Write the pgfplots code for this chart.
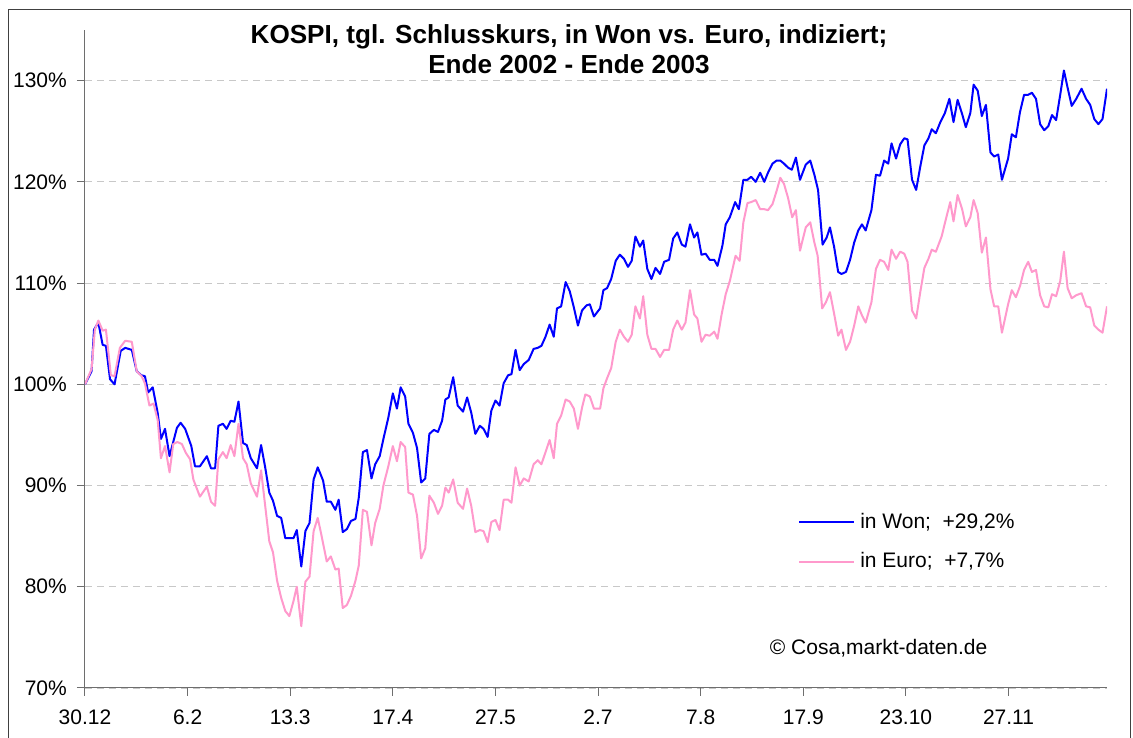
\documentclass[border=0pt]{standalone}
\usepackage{fontspec}
\setmainfont{Liberation Sans}
\usepackage{pgfplots}
\pgfplotsset{compat=1.18}
\definecolor{wonblue}{RGB}{0,0,255}
\definecolor{europink}{RGB}{255,153,204}
\definecolor{gridgray}{RGB}{200,200,200}
\definecolor{axgray}{RGB}{110,110,110}
\begin{document}
\fontsize{21pt}{25pt}\selectfont
\begin{tikzpicture}
\useasboundingbox (0pt,0pt) rectangle (1133pt,738pt);
\fill[white] (0pt,0pt) rectangle (1133pt,738pt);
\draw[black!75, line width=1pt] (8pt,-10pt) rectangle (1130pt,728pt);
\node[align=center, font=\bfseries\fontsize{26.1pt}{30pt}\selectfont] at (569pt,688.5pt)
  {KOSPI, tgl. Schlusskurs, in Won vs. Euro, indiziert;\\Ende 2002 - Ende 2003};
\begin{axis}[
  at={(85pt,50pt)}, anchor=south west, scale only axis,
  width=1022pt, height=658pt,
  xmin=0, xmax=249, ymin=70, ymax=135,
  axis x line=bottom, axis y line=left,
  axis line style={-, axgray, line width=1pt},
  tick style={axgray, line width=1pt},
  tick align=outside, major tick length=8pt,
  xtick={0,25,...,225},
  xticklabels={30.12,6.2,13.3,17.4,27.5,2.7,7.8,17.9,23.10,27.11},
  ytick={70,80,...,130},
  yticklabels={70\%,80\%,90\%,100\%,110\%,120\%,130\%},
  ticklabel style={font=\fontsize{21pt}{25pt}\selectfont},
  yticklabel style={inner sep=0pt, xshift=-10pt},
  xticklabel style={inner sep=0pt, yshift=-14pt},
  ymajorgrids=true,
  major grid style={gridgray, dash pattern=on 7pt off 5pt, line width=0.8pt},
  legend style={at={(axis description cs:0.6977,0.266)}, anchor=north west,
    draw=none, fill=none, inner sep=0pt, row sep=21pt, column sep=5pt,
    font=\fontsize{21pt}{25pt}\selectfont, nodes={inner sep=0pt}},
  legend cell align=left,
  legend image code/.code={\draw[#1] (0pt,0pt) -- (55pt,0pt);},
]
\addplot[wonblue, line width=2pt, line join=round] coordinates {
(0,100.0) (1.6,101.3) (2.2,105.4) (3.25,106.1) (4.3,103.9) (5.1,103.8) (6.1,100.5) (7.2,100.0)
(8.7,103.3) (9.8,103.6) (11.4,103.4) (12.6,101.3) (13.7,100.9) (14.6,100.8) (15.4,99.2) (16.5,99.7)
(17.7,97.2) (18.5,94.6) (19.5,95.6) (20.6,92.9) (22.4,95.7) (23.3,96.2) (24.4,95.6) (25.9,93.9)
(26.8,91.9) (28.0,91.9) (29.7,92.9) (30.7,91.7) (31.7,91.7) (32.5,95.9) (33.6,96.1) (34.5,95.6)
(35.5,96.4) (36.4,96.3) (37.4,98.3) (38.5,94.2) (39.4,94.0) (40.4,92.7) (41.9,91.7) (42.9,94.0)
(43.9,91.8) (44.9,89.3) (45.8,88.5) (46.8,87.0) (47.8,86.8) (48.8,84.8) (50.8,84.8) (51.6,85.6)
(52.7,82.0) (53.7,85.5) (54.7,86.3) (55.7,90.6) (56.7,91.8) (58.0,90.5) (58.9,88.4) (59.9,88.4)
(61.0,87.6) (61.8,88.6) (62.8,85.4) (63.8,85.7) (64.8,86.5) (65.9,86.7) (66.7,88.8) (67.7,93.3)
(68.7,93.5) (69.8,90.7) (70.7,92.1) (71.8,92.9) (72.7,94.6) (73.9,96.7) (75.0,99.1) (76.0,97.6)
(76.9,99.7) (78.0,98.8) (78.8,96.1) (79.9,95.2) (80.9,93.7) (81.9,90.3) (82.9,90.7) (83.9,95.1)
(85.0,95.5) (86.0,95.3) (87.0,96.4) (87.8,98.5) (88.6,98.7) (89.7,100.7) (90.8,97.9) (92.1,97.3)
(93.1,98.7) (94.1,97.2) (95.1,95.1) (96.2,95.9) (97.1,95.6) (98.1,94.8) (99.0,97.4) (100.0,98.4)
(101.0,97.9) (102.0,100.1) (103.1,100.9) (103.9,101.0) (104.9,103.4) (105.9,101.4) (106.9,102.0) (108.1,102.4)
(109.3,103.5) (110.3,103.6) (111.2,103.8) (112.2,104.7) (113.2,105.9) (114.2,104.7) (115.0,107.5) (116.0,107.7)
(117.1,110.1) (118.1,109.2) (119.1,107.6) (120.1,105.8) (121.1,107.3) (122.2,107.8) (123.0,107.9) (124.0,106.7)
(125.5,107.5) (126.3,109.3) (127.2,109.5) (128.2,110.4) (129.3,112.2) (130.3,112.8) (131.3,112.4) (132.3,111.6)
(133.2,112.2) (134.1,114.6) (135.2,113.6) (136.0,114.2) (137.0,111.4) (138.0,110.4) (139.0,111.5) (140.1,110.9)
(141.1,112.1) (142.3,112.3) (143.3,114.4) (144.3,115.0) (145.4,113.8) (146.3,113.6) (147.4,115.8) (148.4,114.5)
(149.2,115.0) (150.2,112.8) (151.2,112.9) (152.2,112.3) (153.3,112.3) (154.1,111.7) (155.3,113.7) (156.1,115.8)
(157.1,116.5) (158.4,118.0) (159.3,117.3) (160.4,120.2) (161.4,120.2) (162.3,120.5) (163.4,120.0) (164.5,120.9)
(165.5,120.0) (166.4,120.9) (167.5,121.8) (168.5,122.1) (169.4,122.1) (170.3,121.8) (171.3,121.4) (172.2,121.2)
(173.2,122.4) (174.2,120.2) (175.6,121.7) (176.7,122.1) (177.7,120.7) (178.6,119.2) (179.7,113.8) (180.7,114.5)
(181.5,115.5) (182.5,113.6) (183.5,111.1) (184.3,110.9) (185.4,111.1) (186.4,112.3) (187.4,114.0) (188.4,115.2)
(189.3,115.8) (190.2,115.2) (191.6,117.2) (192.7,120.7) (193.7,120.6) (194.7,122.1) (195.7,121.8) (196.5,123.8)
(197.6,122.3) (198.6,123.7) (199.6,124.3) (200.4,124.2) (201.5,120.2) (202.5,119.2) (203.5,121.5) (204.5,123.6)
(205.5,124.3) (206.3,125.2) (207.3,124.8) (208.4,125.9) (209.5,126.8) (210.6,128.2) (211.6,125.9) (212.6,128.1)
(213.7,126.7) (214.6,125.4) (215.7,126.8) (216.5,129.6) (217.5,129.0) (218.5,126.5) (219.5,127.6) (220.6,122.9)
(221.5,122.5) (222.5,122.7) (223.4,120.2) (224.9,122.3) (225.8,124.7) (226.8,124.4) (227.8,126.9) (228.8,128.6)
(229.8,128.6) (230.7,128.8) (231.7,128.2) (232.7,125.7) (233.7,125.1) (234.7,125.5) (235.6,126.6) (236.6,126.1)
(237.6,128.6) (238.5,131.0) (239.4,129.3) (240.4,127.5) (241.5,128.2) (242.8,129.2) (243.9,128.2) (244.9,127.6)
(245.9,126.2) (246.9,125.7) (247.9,126.2) (249.0,129.2)
};
\addlegendentry{in Won;\ \ +29,2\%}
\addplot[europink, line width=2pt, line join=round] coordinates {
(0,100.0) (1.6,101.5) (2.4,105.4) (3.25,106.3) (4.3,105.3) (5.1,105.4) (6.3,100.9) (7.2,100.8)
(8.5,103.6) (9.8,104.3) (11.4,104.2) (12.6,101.3) (13.8,100.8) (14.6,100.1) (15.7,97.9) (16.7,98.1)
(17.7,96.5) (18.5,92.7) (19.5,93.9) (20.6,91.3) (21.5,94.1) (22.5,94.3) (23.6,94.1) (24.6,93.2)
(25.6,92.6) (26.4,90.6) (28.0,88.9) (29.7,89.9) (30.7,88.4) (31.7,88.0) (32.5,92.6) (33.6,93.3)
(34.5,92.7) (35.5,94.0) (36.4,92.9) (37.4,96.1) (38.5,92.7) (39.4,92.1) (40.4,90.2) (41.9,88.9)
(42.9,91.5) (43.9,88.0) (44.9,84.5) (45.8,83.4) (46.8,80.6) (47.8,78.9) (48.8,77.6) (49.8,77.1)
(50.8,78.6) (51.6,80.0) (52.7,76.1) (53.7,80.5) (54.7,81.0) (55.7,85.5) (56.7,86.8) (57.5,85.3)
(58.9,82.5) (59.9,83.0) (61.0,81.7) (61.8,81.8) (62.8,77.9) (63.8,78.2) (64.8,79.1) (65.9,80.6)
(66.7,82.1) (67.7,87.6) (68.7,87.4) (69.8,84.1) (70.7,86.3) (71.8,87.7) (72.7,90.0) (73.9,91.9)
(75.0,93.9) (76.0,92.4) (76.9,94.3) (78.0,93.8) (78.8,89.3) (79.9,89.1) (80.9,87.0) (81.9,82.8)
(82.9,83.8) (83.9,89.0) (85.0,88.3) (86.0,87.2) (87.0,88.0) (87.8,89.8) (88.6,89.3) (89.7,90.6)
(90.8,88.3) (92.1,87.7) (93.1,89.7) (94.1,88.0) (95.1,85.4) (96.2,85.6) (97.1,85.5) (98.1,84.4)
(99.0,86.4) (100.0,86.6) (101.0,85.6) (102.0,88.6) (103.1,88.6) (103.9,88.3) (104.9,91.8) (105.9,90.0)
(106.9,90.7) (108.1,90.4) (109.3,92.1) (110.3,92.5) (111.2,92.1) (112.2,93.3) (113.2,94.5) (114.2,92.7)
(115.0,96.1) (116.0,96.9) (117.1,98.5) (118.1,98.3) (119.1,97.6) (120.1,95.6) (121.1,97.7) (121.9,99.0)
(123.0,98.8) (124.0,97.6) (125.5,97.6) (126.3,99.6) (127.2,100.6) (128.2,101.6) (129.3,104.2) (130.3,105.4)
(131.3,104.7) (132.3,104.2) (133.2,104.9) (134.1,107.7) (135.2,106.5) (136.0,108.7) (137.0,104.9) (138.0,103.5)
(139.0,103.5) (140.1,102.7) (141.1,103.4) (142.3,103.4) (143.3,105.4) (144.3,106.3) (145.4,105.4) (146.3,106.1)
(147.4,109.3) (148.4,106.9) (149.2,106.5) (150.2,104.2) (151.2,104.9) (152.2,104.8) (153.3,105.2) (154.1,104.5)
(155.1,106.9) (156.1,108.9) (157.1,110.2) (158.5,112.7) (159.5,112.2) (160.4,116.0) (161.4,117.9) (162.3,118.0)
(163.4,118.2) (164.5,117.3) (165.5,117.3) (166.4,117.2) (167.5,117.8) (168.5,119.1) (169.4,120.4) (170.3,119.8)
(171.3,118.4) (172.3,116.5) (173.2,117.2) (174.2,113.2) (175.6,115.5) (176.7,116.0) (177.7,114.0) (178.5,112.7)
(179.6,107.5) (180.5,108.1) (181.5,109.1) (182.5,107.0) (183.5,104.8) (184.3,105.4) (185.4,103.4) (186.4,104.2)
(187.4,105.8) (188.4,107.7) (189.3,106.8) (190.2,106.1) (191.6,108.1) (192.7,111.4) (193.7,112.3) (194.7,112.1)
(195.7,111.3) (196.5,113.3) (197.6,112.4) (198.6,113.1) (199.6,112.9) (200.4,112.1) (201.5,107.3) (202.5,106.5)
(203.5,109.1) (204.5,111.5) (205.5,112.4) (206.3,113.3) (207.3,113.1) (208.7,114.6) (209.8,116.4) (210.8,118.0)
(211.6,116.1) (212.6,118.7) (213.7,117.3) (214.6,115.6) (215.7,116.5) (216.5,118.2) (217.5,116.9) (218.5,113.0)
(219.5,114.5) (220.6,109.4) (221.5,107.7) (222.5,107.7) (223.4,105.1) (224.9,107.9) (225.8,109.3) (226.8,108.6)
(227.8,109.7) (228.8,111.3) (229.8,112.1) (230.7,111.1) (231.7,111.3) (232.7,108.8) (233.7,107.7) (234.7,107.6)
(235.6,108.9) (236.6,108.7) (237.6,110.2) (238.5,113.1) (239.4,109.5) (240.4,108.5) (241.5,108.8) (242.8,109.0)
(243.9,107.7) (244.9,107.6) (245.9,105.8) (246.9,105.4) (247.9,105.1) (249.0,107.7)
};
\addlegendentry{in Euro;\ \ +7,7\%}
\node[anchor=west, inner sep=0pt, font=\fontsize{21pt}{25pt}\selectfont] at (axis description cs:0.670,0.0608) {© Cosa,markt-daten.de};
\end{axis}
\end{tikzpicture}
\end{document}
